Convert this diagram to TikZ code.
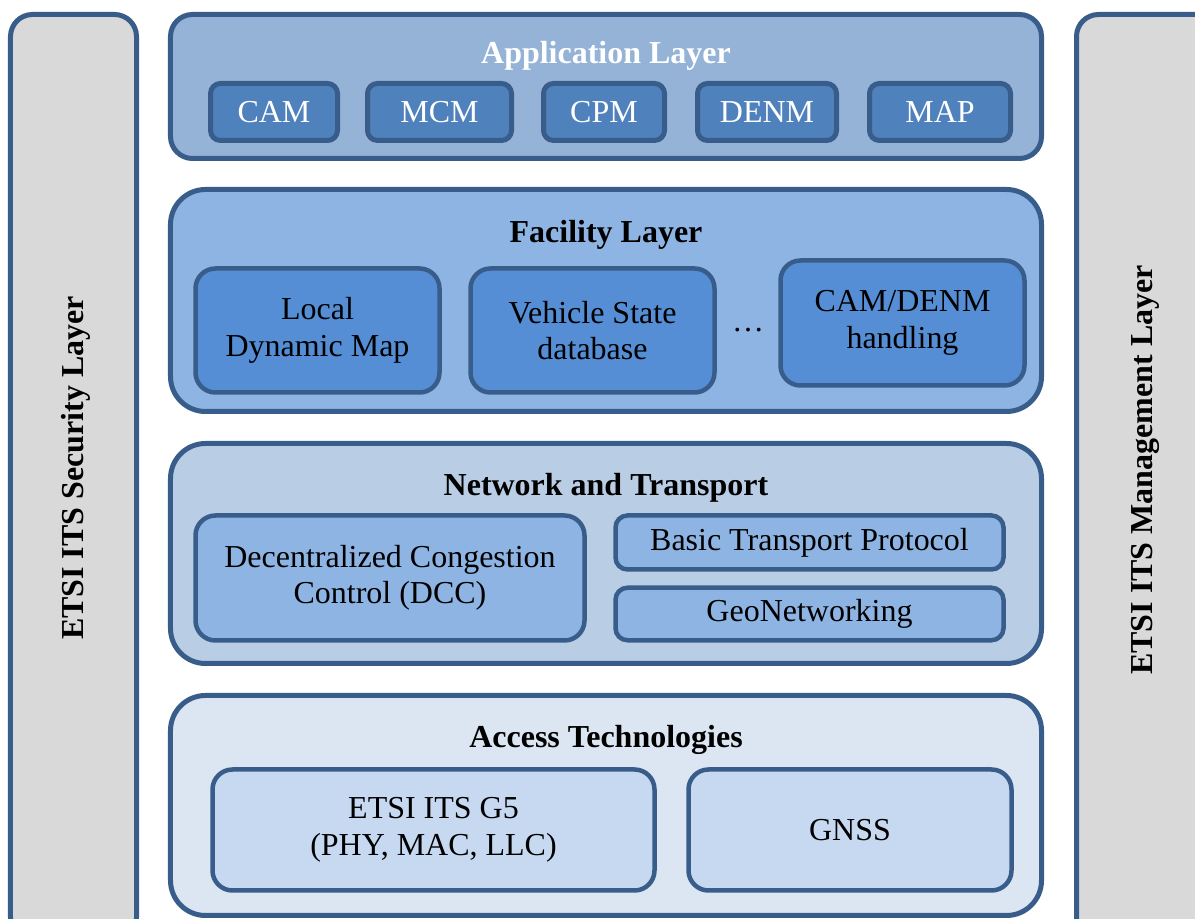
\documentclass[tikz,border=0pt]{standalone}
\usepackage{fontspec}
\setmainfont{Liberation Serif}
\usetikzlibrary{positioning}

\definecolor{edgeblue}{HTML}{385D8A}
\definecolor{sidegray}{HTML}{D9D9D9}
\definecolor{appouter}{HTML}{95B3D7}
\definecolor{appinner}{HTML}{4F81BD}
\definecolor{facouter}{HTML}{8EB4E3}
\definecolor{facinner}{HTML}{558ED5}
\definecolor{netouter}{HTML}{B9CDE5}
\definecolor{netinner}{HTML}{8EB4E3}
\definecolor{accouter}{HTML}{DCE6F2}
\definecolor{accinner}{HTML}{C6D9F1}

\tikzset{
  layer/.style={draw=edgeblue, line width=0.5mm, rounded corners=3.5mm, minimum width=87.1cm/10},
  sidebar/.style={draw=edgeblue, fill=sidegray, line width=0.5mm, rounded corners=2.2mm},
  msgbox/.style={draw=edgeblue, fill=appinner, text=white, line width=0.5mm, rounded corners=1mm, minimum height=5.7mm},
  unit/.style={draw=edgeblue, line width=0.45mm, rounded corners=2mm, align=center},
  title/.style={font=\fontsize{9.1}{10.4}\selectfont\bfseries},
  sidetext/.style={font=\fontsize{9.1}{10.4}\selectfont\bfseries, rotate=90}
}

\begin{document}
\begin{tikzpicture}[x=1mm,y=-1mm,font=\fontsize{9.1}{10.4}\selectfont]
\clip (0,0) rectangle (119.5,91.9);

% side layers
\node[sidebar, minimum width=12.6mm, minimum height=92.5mm] (sec) at (7.35,47.7) {};
\node[sidebar, minimum width=14.3mm, minimum height=92.5mm] (mgmt) at (114.8,47.7) {};
\node[sidetext] (sectext) at (7.6,46.8) {ETSI ITS Security Layer};
\node[sidetext] (mgmttext) at (114.5,47.0) {ETSI ITS Management Layer};

% application layer
\node[layer, fill=appouter, rounded corners=2.2mm, minimum height=14.4mm] (app) at (60.6,8.65) {};
\node[title, text=white] (apptitle) at (60.6,5.6) {Application Layer};
\node[msgbox, minimum width=12.7mm] (cam) at (27.4,11.2) {CAM};
\node[msgbox, minimum width=14.4mm] (mcm) at (43.95,11.2) {MCM};
\node[msgbox, minimum width=12.1mm] (cpm) at (60.4,11.2) {CPM};
\node[msgbox, minimum width=13.9mm] (denm) at (76.7,11.2) {DENM};
\node[msgbox, minimum width=14.1mm] (map) at (94.0,11.2) {MAP};

% facility layer
\node[layer, fill=facouter, minimum height=22.2mm] (fac) at (60.6,30.05) {};
\node[title] (factitle) at (60.6,23.5) {Facility Layer};
\node[unit, fill=facinner, minimum width=24.4mm, minimum height=12.4mm] (ldm) at (31.75,33.05) {Local\\Dynamic Map};
\node[unit, fill=facinner, minimum width=24.4mm, minimum height=12.4mm] (vsd) at (59.25,33.05) {Vehicle State\\database};
\node (dots) at (74.8,33.0) {\dots};
\node[unit, fill=facinner, minimum width=24.4mm, minimum height=12.5mm] (cdh) at (90.25,32.3) {CAM/DENM\\handling};

% network and transport
\node[layer, fill=netouter, minimum height=22mm] (net) at (60.6,55.35) {};
\node[title] (nettitle) at (60.6,48.8) {Network and Transport};
\node[unit, fill=netinner, minimum width=38.9mm, minimum height=12.5mm] (dcc) at (39.0,57.8) {Decentralized Congestion\\Control (DCC)};
\node[unit, fill=netinner, rounded corners=1.2mm, minimum width=38.8mm, minimum height=5.4mm] (btp) at (80.95,54.25) {Basic Transport Protocol};
\node[unit, fill=netinner, rounded corners=1.2mm, minimum width=38.8mm, minimum height=4.5mm] (geo) at (80.95,61.4) {GeoNetworking};

% access technologies
\node[layer, fill=accouter, minimum height=22mm] (acc) at (60.6,80.55) {};
\node[title] (acctitle) at (60.6,74.0) {Access Technologies};
\node[unit, fill=accinner, minimum width=44.2mm, minimum height=12.1mm] (g5) at (43.35,83.0) {ETSI ITS G5\\(PHY, MAC, LLC)};
\node[unit, fill=accinner, minimum width=32.3mm, minimum height=12.1mm] (gnss) at (85.0,83.0) {GNSS};
\end{tikzpicture}
\end{document}
